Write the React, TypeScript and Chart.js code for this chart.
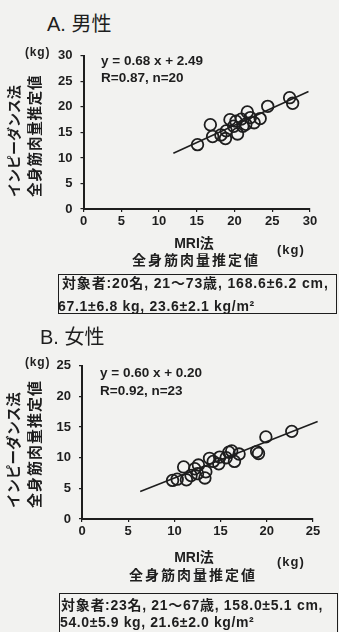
import React, { useEffect, useRef } from "react";
import { Chart, registerables } from "chart.js";

Chart.register(...registerables);

// ---- Data: A. 男性 (male) ----
const maleMri = [15.1, 16.8, 17.1, 18.2, 18.8, 18.9, 19.4, 19.9, 20.2, 20.4, 20.9, 21.1, 21.5, 21.7, 22.1, 22.6, 23.4, 24.4, 27.3, 27.7];
const maleBia = [12.6, 16.5, 14.2, 14.5, 13.8, 15.3, 17.5, 16.2, 17.2, 14.7, 17.6, 16.2, 16.6, 19.0, 17.9, 16.9, 17.7, 20.1, 21.8, 20.7];
const maleLineX = [11.9, 29.8];
const maleLineY = [10.9, 23.0];
const maleAxisMax = 30;

// ---- Data: B. 女性 (female) ----
const femaleMri = [9.8, 10.3, 11.0, 11.3, 11.8, 12.2, 12.5, 12.6, 13.3, 13.4, 13.8, 14.2, 14.8, 14.9, 15.6, 15.9, 16.2, 16.5, 17.0, 18.9, 19.1, 19.9, 22.7];
const femaleBia = [6.3, 6.5, 8.5, 6.4, 7.1, 8.2, 7.4, 8.8, 6.7, 7.7, 9.9, 9.4, 9.0, 10.1, 10.0, 10.9, 11.1, 9.4, 10.6, 11.0, 10.7, 13.4, 14.3];
const femaleLineX = [6.3, 25.5];
const femaleLineY = [4.5, 15.9];
const femaleAxisMax = 25;

const INK = "#1e1e1e";
const LATIN = '"Liberation Sans", Arial, "Noto Sans CJK JP", sans-serif';

type PanelProps = {
  xs: number[];
  ys: number[];
  lx: number[];
  ly: number[];
  max: number;
  areaLeft: number;
  areaRight: number;
  canvasTop: number;
};

function Panel({ xs, ys, lx, ly, max, areaLeft, areaRight, canvasTop }: PanelProps) {
  const ref = useRef<HTMLCanvasElement>(null);
  useEffect(() => {
    const tickFont = { family: LATIN, size: 13, weight: "bold" as const };
    const chart = new Chart(ref.current!, {
      type: "scatter",
      data: {
        datasets: [
          {
            data: lx.map((x, i) => ({ x, y: ly[i] })),
            showLine: true,
            borderColor: INK,
            borderWidth: 1.6,
            pointRadius: 0,
            clip: false as any,
          },
          {
            data: xs.map((x, i) => ({ x, y: ys[i] })),
            pointStyle: "circle",
            pointRadius: 5.8,
            borderColor: INK,
            borderWidth: 1.8,
            backgroundColor: "rgba(0,0,0,0)",
          },
        ],
      },
      options: {
        animation: false,
        responsive: false,
        maintainAspectRatio: false,
        layout: { padding: { left: 0, right: 339 - areaRight, top: 12, bottom: 0 } },
        plugins: { legend: { display: false }, tooltip: { enabled: false } },
        scales: {
          x: {
            type: "linear",
            min: 0,
            max,
            ticks: { stepSize: 5, color: INK, font: tickFont, padding: 2, maxRotation: 0 },
            grid: { drawOnChartArea: false, tickLength: 3, color: INK, lineWidth: 1.2 },
            border: { color: INK, width: 2 },
            afterFit: (s: any) => {
              s.height = 31;
            },
          },
          y: {
            type: "linear",
            min: 0,
            max,
            ticks: { stepSize: 5, color: INK, font: tickFont, padding: 8 },
            grid: { drawOnChartArea: false, tickLength: 3, color: INK, lineWidth: 1.2 },
            border: { color: INK, width: 2 },
            afterFit: (s: any) => {
              s.width = areaLeft;
            },
          },
        },
      },
    });
    return () => chart.destroy();
  }, []);
  return (
    <canvas
      ref={ref}
      width={339}
      height={200}
      style={{ position: "absolute", left: 0, top: canvasTop, width: 339, height: 200 }}
    />
  );
}

type TProps = {
  x: number;
  cy: number;
  size: number;
  bold?: boolean;
  center?: boolean;
  spacing?: number;
  family?: string;
  children: React.ReactNode;
};

function T({ x, cy, size, bold = true, center = false, spacing = 0, family = LATIN, children }: TProps) {
  const lh = Math.round(size * 1.4);
  return (
    <div
      style={{
        position: "absolute",
        left: x,
        top: cy - lh / 2,
        lineHeight: lh + "px",
        height: lh,
        fontSize: size,
        fontWeight: bold ? 700 : 400,
        fontFamily: family,
        letterSpacing: spacing,
        whiteSpace: "nowrap",
        color: INK,
        transform: center ? "translateX(-50%)" : undefined,
      }}
    >
      {children}
    </div>
  );
}

function VText({ cx, bottom, size, spacing = 0, children }: { cx: number; bottom: number; size: number; spacing?: number; children: React.ReactNode }) {
  const lh = 20;
  return (
    <div
      style={{
        position: "absolute",
        left: cx - lh / 2,
        top: bottom,
        lineHeight: lh + "px",
        height: lh,
        fontSize: size,
        fontWeight: 700,
        fontFamily: '"Noto Sans CJK JP", sans-serif',
        letterSpacing: spacing,
        whiteSpace: "nowrap",
        color: INK,
        transform: "rotate(-90deg)",
        transformOrigin: "0 0",
      }}
    >
      {children}
    </div>
  );
}

const boxStyle = (left: number, top: number): React.CSSProperties => ({
  position: "absolute",
  left,
  top,
  width: 279,
  height: 40,
  border: `1.5px solid ${INK}`,
  boxSizing: "border-box",
});

export default function App() {
  return (
    <div
      style={{
        position: "fixed",
        left: 0,
        top: 0,
        width: 339,
        height: 632,
        overflow: "hidden",
        background: "#f2f2f0",
      }}
    >
      {/* Panel A */}
      <Panel xs={maleMri} ys={maleBia} lx={maleLineX} ly={maleLineY} max={maleAxisMax} areaLeft={83.5} areaRight={310} canvasTop={40} />
      <T x={47} cy={24} size={20} bold={false}>A. 男性</T>
      <T x={25} cy={52} size={12} spacing={0.8}>(kg)</T>
      <T x={101} cy={60} size={13.5}>y = 0.68 x + 2.49</T>
      <T x={101} cy={77} size={13.5}>R=0.87, n=20</T>
      <VText cx={13} bottom={197} size={14}>インピーダンス法</VText>
      <VText cx={34} bottom={197} size={14.5} spacing={0.8}>全身筋肉量推定値</VText>
      <T x={194} cy={243} size={14} center>MRI法</T>
      <T x={277} cy={250} size={13} spacing={1}>(kg)</T>
      <T x={196} cy={260} size={14} center spacing={2}>全身筋肉量推定値</T>
      <div style={boxStyle(58, 274)} />
      <T x={62} cy={283} size={14} spacing={0.85}>対象者:20名, 21〜73歳, 168.6±6.2 cm,</T>
      <T x={58} cy={306} size={14} spacing={0.7}>67.1±6.8 kg, 23.6±2.1 kg/m²</T>

      {/* Panel B */}
      <Panel xs={femaleMri} ys={femaleBia} lx={femaleLineX} ly={femaleLineY} max={femaleAxisMax} areaLeft={82} areaRight={313} canvasTop={350} />
      <T x={40} cy={337} size={20} bold={false}>B. 女性</T>
      <T x={25} cy={362} size={12} spacing={0.8}>(kg)</T>
      <T x={100} cy={372} size={13.5}>y = 0.60 x + 0.20</T>
      <T x={100} cy={390} size={13.5}>R=0.92, n=23</T>
      <VText cx={13} bottom={508} size={14.5}>インピーダンス法</VText>
      <VText cx={34} bottom={508} size={15} spacing={1}>全身筋肉量推定値</VText>
      <T x={194} cy={557} size={14} center>MRI法</T>
      <T x={277} cy={562} size={13} spacing={1}>(kg)</T>
      <T x={193} cy={575} size={14} center spacing={2}>全身筋肉量推定値</T>
      <div style={boxStyle(59, 593)} />
      <T x={61} cy={605} size={14} spacing={0.7}>対象者:23名, 21〜67歳, 158.0±5.1 cm,</T>
      <T x={60} cy={622} size={14} spacing={0.6}>54.0±5.9 kg, 21.6±2.0 kg/m²</T>
    </div>
  );
}
